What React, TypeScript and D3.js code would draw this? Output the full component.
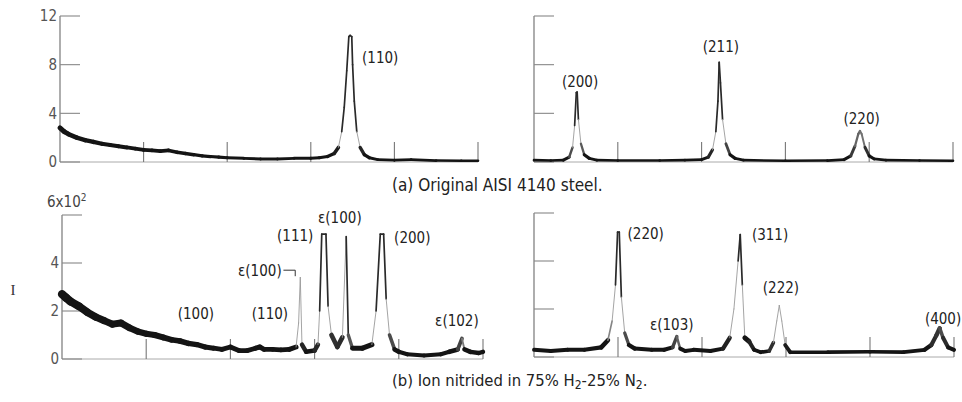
import React from 'react';
import * as d3 from 'd3';

type Pt = [number, number];

// 2θ (deg) vs intensity (x10^2 counts)
const originalLow: Pt[] = [
  [10, 2.8], [10.5, 2.5], [11, 2.3], [12, 2.0], [13, 1.8], [14, 1.65], [15, 1.5], [16, 1.4], [17, 1.3],
  [18, 1.2], [19, 1.1], [20, 1.0], [21, 0.95], [22, 0.9], [23, 0.95], [24, 0.8], [25, 0.7], [26, 0.6],
  [27, 0.5], [28, 0.45], [29, 0.4], [30, 0.35], [32, 0.3], [34, 0.25], [36, 0.25], [38, 0.3], [40, 0.3],
  [41, 0.35], [42, 0.45], [42.8, 0.7], [43.3, 1.2], [43.7, 2.5], [44.0, 4.5], [44.3, 7.5], [44.55, 10.3],
  [44.7, 10.4], [44.9, 10.3], [45.0, 8], [45.2, 5], [45.5, 2.5], [45.9, 1.2], [46.4, 0.6], [47, 0.35],
  [48, 0.2], [50, 0.15], [52, 0.2], [55, 0.12], [58, 0.1], [60, 0.1],
];

const originalHigh: Pt[] = [
  [60, 0.15], [62, 0.12], [63.5, 0.15], [64.2, 0.4], [64.6, 1.2], [64.85, 3.0], [65.05, 5.7], [65.15, 5.75],
  [65.3, 3.5], [65.6, 1.5], [66.0, 0.6], [66.6, 0.3], [67.5, 0.15], [70, 0.12], [75, 0.12], [78, 0.15],
  [80, 0.2], [80.8, 0.4], [81.3, 1.0], [81.7, 2.5], [81.95, 5.0], [82.1, 8.2], [82.25, 6.5], [82.5, 3.5],
  [82.9, 1.5], [83.4, 0.6], [84, 0.3], [85, 0.15], [90, 0.1], [95, 0.12], [97, 0.2], [97.8, 0.5],
  [98.3, 1.3], [98.7, 2.3], [98.9, 2.55], [99.1, 2.3], [99.5, 1.2], [100, 0.5], [100.6, 0.25], [102, 0.15],
  [106, 0.12], [110, 0.1],
];

const nitridedLow: Pt[] = [
  [10, 2.7], [10.5, 2.55], [11, 2.4], [12, 2.2], [13, 1.95], [14, 1.75], [15, 1.6], [16, 1.45], [17, 1.5],
  [18, 1.3], [19, 1.15], [20, 1.05], [21, 1.0], [22, 0.9], [23, 0.8], [24, 0.75], [25, 0.65], [26, 0.6],
  [27, 0.5], [28, 0.45], [29, 0.4], [30, 0.5], [31, 0.35], [32, 0.35], [33, 0.45], [33.5, 0.5], [34, 0.4],
  [35, 0.4], [36, 0.38], [37, 0.4], [37.8, 0.5], [38.1, 1.5], [38.3, 3.4], [38.5, 0.6], [39, 0.3],
  [40, 0.35], [40.4, 0.6], [40.6, 2.0], [40.85, 5.2], [41.35, 5.2], [41.6, 2.2], [42, 1.0], [42.7, 0.5],
  [43.3, 0.9], [43.75, 5.1], [44.0, 1.0], [44.5, 0.45], [45.7, 0.45], [46.8, 0.6], [47.3, 2.0],
  [47.8, 5.2], [48.2, 5.2], [48.5, 2.5], [48.9, 1.0], [49.5, 0.4], [50, 0.3], [51, 0.2], [53, 0.15],
  [55, 0.2], [56, 0.3], [57, 0.4], [57.5, 0.85], [57.8, 0.4], [58.5, 0.3], [59.5, 0.25], [60, 0.3],
];

const nitridedHigh: Pt[] = [
  [60, 0.3], [62, 0.25], [64, 0.3], [66, 0.3], [68, 0.4], [68.8, 0.7], [69.3, 1.5], [69.7, 3.0],
  [69.95, 5.2], [70.15, 5.2], [70.4, 2.5], [70.8, 1.0], [71.3, 0.5], [72, 0.35], [74, 0.3], [75.5, 0.3],
  [76.5, 0.4], [77.0, 0.85], [77.4, 0.35], [78, 0.25], [79, 0.3], [81, 0.25], [82.5, 0.35], [83.3, 0.8],
  [83.8, 2.0], [84.3, 4.0], [84.55, 5.1], [84.8, 3.0], [85.1, 0.8], [85.6, 0.65], [86.2, 0.3], [87, 0.2],
  [88, 0.25], [88.5, 0.6], [88.9, 1.5], [89.2, 2.15], [89.5, 1.5], [89.9, 0.5], [90.5, 0.2], [95, 0.2],
  [100, 0.22], [104, 0.2], [106.5, 0.3], [107.3, 0.5], [107.9, 0.9], [108.3, 1.2], [108.7, 0.8],
  [109.3, 0.4], [110, 0.3],
];

const topYTicks = [0, 4, 8, 12];
const topYTickLabels = ['0', '4', '8', '12'];
const bottomYTicks = [0, 2, 4, 6];
const bottomYTickLabels = ['0', '2', '4'];
const lowXTicks = [20, 30, 40, 50, 60];
const highXTicks = [70, 80, 90, 100, 110];

type Lab = [string, number, number];
const originalLowLabels: Lab[] = [['(110)', 48.3, 8.6]];
const originalHighLabels: Lab[] = [['(200)', 65.5, 6.6], ['(211)', 82.3, 9.45], ['(220)', 99.1, 3.6]];
const nitridedLowLabels: Lab[] = [
  ['ε(100)', 43.0, 5.9], ['(111)', 37.7, 5.15], ['ε(100)', 33.5, 3.67], ['(200)', 51.6, 5.05],
  ['(100)', 25.9, 1.9], ['(110)', 34.7, 1.9], ['ε(102)', 56.9, 1.6],
];
const nitridedHighLabels: Lab[] = [
  ['(220)', 73.3, 5.15], ['(311)', 88.1, 5.1], ['(222)', 89.4, 2.9], ['ε(103)', 76.4, 1.35], ['(400)', 108.7, 1.6],
];

const LABEL_FONT = "'Liberation Sans Narrow', 'DejaVu Sans Condensed', 'Noto Sans', sans-serif";

interface PanelProps {
  data: Pt[];
  xDomain: [number, number];
  xRange: [number, number];
  yDomain: [number, number];
  yRange: [number, number];
  yTicks: number[];
  yTickLabels?: string[];
  xTicks: number[];
  labels: Lab[];
  noiseBase: number;
  noiseK: number;
  unitLabel?: boolean;
  hook?: boolean;
}

function Panel(p: PanelProps) {
  const x = d3.scaleLinear().domain(p.xDomain).range(p.xRange);
  const y = d3.scaleLinear().domain(p.yDomain).range(p.yRange);
  const col = d3.interpolateRgb('#141414', '#9a9a9a');
  const n = p.data.length;
  const steep: number[] = [];
  for (let i = 0; i < n - 1; i++) {
    const x1 = x(p.data[i][0]), y1 = y(p.data[i][1]), x2 = x(p.data[i + 1][0]), y2 = y(p.data[i + 1][1]);
    const s = Math.abs(y2 - y1) / Math.max(0.5, Math.abs(x2 - x1));
    steep.push(Math.min(1, Math.max(0, (s - 1.2) / 4)));
  }
  const segs = [] as React.ReactNode[];
  for (let i = 0; i < n - 1; i++) {
    const [a0, b0] = p.data[i];
    const [a1, b1] = p.data[i + 1];
    const avgRaw = (b0 + b1) / 2;
    let t = steep[i];
    if (avgRaw > 1.2) t = Math.max(t, steep[i - 1] ?? 0, steep[i + 1] ?? 0);
    const avg = Math.min(3, avgRaw);
    const wf = p.noiseBase + p.noiseK * Math.sqrt(Math.max(0, avg));
    let w = wf * (1 - t) + 0.9 * t;
    let c = col(t);
    if (t > 0.5 && avgRaw > 3) {
      w = 1.7;
      c = '#2a2a2a';
    }
    segs.push(
      <line key={i} x1={x(a0)} y1={y(b0)} x2={x(a1)} y2={y(b1)} stroke={c} strokeWidth={w} strokeLinecap="round" />
    );
  }
  const x0 = p.xRange[0];
  const base = y(0);
  return (
    <g>
      <line x1={x0} x2={p.xRange[1]} y1={base} y2={base} stroke="#aaa" strokeWidth={1} />
      <line x1={x0} x2={x0} y1={base} y2={y(p.yDomain[1])} stroke="#777" strokeWidth={1.2} />
      {p.yTicks.map((v) => (
        <line key={'yt' + v} x1={x0} x2={x0 + 20} y1={y(v)} y2={y(v)} stroke="#888" strokeWidth={1.1} />
      ))}
      {p.xTicks.map((v) => (
        <line key={'xt' + v} x1={x(v)} x2={x(v)} y1={base} y2={base - 20} stroke="#777" strokeWidth={1.1} />
      ))}
      {p.yTickLabels &&
        p.yTickLabels.map((lbl, i) => (
          <text key={'yl' + i} x={x0 - 3} y={y(p.yTicks[i])} dy="0.36em" textAnchor="end" fontSize={15}
            fontFamily={LABEL_FONT} fill="#555">
            {lbl}
          </text>
        ))}
      {p.unitLabel ? (
        <text x={x0 - 15} y={y(p.yDomain[1]) - 8} fontSize={15} fontFamily={LABEL_FONT} fill="#444">
          6x10<tspan dy="-6" fontSize={10}>2</tspan>
        </text>
      ) : null}
      {segs}
      {p.labels.map(([txt, lx, ly], i) => (
        <text key={'lb' + i} x={x(lx)} y={y(ly)} dy="0.36em" textAnchor="middle" fontSize={15}
          fontFamily={LABEL_FONT} fill="#222">
          {txt}
        </text>
      ))}
      {p.hook ? (
        <path d={`M${x(36.3)},${y(3.7)} H${x(37.7)} V${y(3.45)}`} fill="none" stroke="#333" strokeWidth={1} />
      ) : null}
    </g>
  );
}

export default function App() {
  return (
    <svg width={962} height={402} style={{ position: 'absolute', left: 0, top: 0, background: '#fff' }}>
      <rect width={962} height={402} fill="#fff" />
      <Panel data={originalLow} xDomain={[10, 60]} xRange={[60, 478]} yDomain={[0, 12]} yRange={[162, 16]}
        yTicks={topYTicks} yTickLabels={topYTickLabels} xTicks={lowXTicks} labels={originalLowLabels}
        noiseBase={2} noiseK={1.8} />
      <Panel data={originalHigh} xDomain={[60, 110]} xRange={[534, 953]} yDomain={[0, 12]} yRange={[162, 16]}
        yTicks={topYTicks} xTicks={highXTicks} labels={originalHighLabels} noiseBase={2} noiseK={1.8} />
      <Panel data={nitridedLow} xDomain={[10, 60]} xRange={[62, 483]} yDomain={[0, 6]} yRange={[359, 215]}
        yTicks={bottomYTicks} yTickLabels={bottomYTickLabels} xTicks={lowXTicks} labels={nitridedLowLabels}
        noiseBase={2.5} noiseK={3.6} unitLabel hook />
      <Panel data={nitridedHigh} xDomain={[60, 110]} xRange={[534, 954]} yDomain={[0, 6]} yRange={[357, 213]}
        yTicks={bottomYTicks} xTicks={highXTicks} labels={nitridedHighLabels} noiseBase={2.2} noiseK={3.2} />
      <text x={392} y={191} fontSize={17} fontFamily={LABEL_FONT} fill="#222">(a) Original AISI 4140 steel.</text>
      <text x={392} y={386} fontSize={16.5} fontFamily={LABEL_FONT} fill="#222">
        (b) Ion nitrided in 75% H<tspan dy="3" fontSize={12}>2</tspan>
        <tspan dy="-3">-25% N</tspan>
        <tspan dy="3" fontSize={12}>2</tspan>
        <tspan dy="-3">.</tspan>
      </text>
      <text x={13} y={290} dy="0.36em" textAnchor="middle" fontSize={15} fontFamily="'Liberation Serif', serif" fill="#333">I</text>
    </svg>
  );
}
